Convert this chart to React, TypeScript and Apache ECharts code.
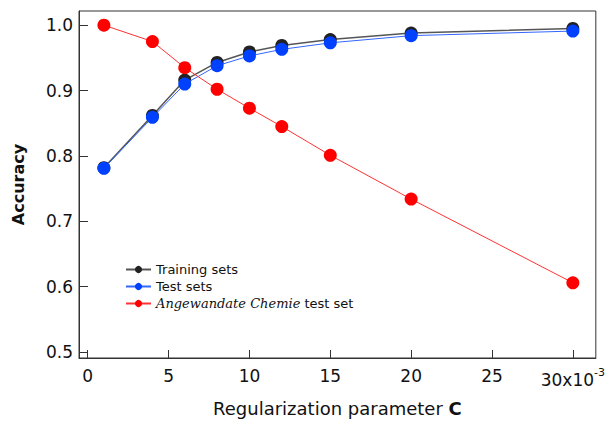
import React, { useEffect, useRef } from "react";
import * as echarts from "echarts";

const xValues = [1, 4, 6, 8, 10, 12, 15, 20, 30];
const trainingSets = [0.782, 0.862, 0.916, 0.943, 0.959, 0.969, 0.978, 0.988, 0.995];
const testSets = [0.781, 0.859, 0.910, 0.938, 0.953, 0.963, 0.973, 0.984, 0.991];
const angewandteSet = [1.0, 0.975, 0.935, 0.902, 0.873, 0.845, 0.801, 0.734, 0.606];
const xTicks = [0, 5, 10, 15, 20, 25, 30];
const yTicks = [0.5, 0.6, 0.7, 0.8, 0.9, 1.0];

const FONT = "DejaVu Sans";

export default function App() {
  const ref = useRef<HTMLDivElement>(null);
  useEffect(() => {
    if (!ref.current) return;
    const chart = echarts.init(ref.current, undefined, { renderer: "svg" });
    const pair = (ys: number[]) => xValues.map((x, i) => [x, ys[i]]);
    chart.setOption({
      animation: false,
      backgroundColor: "#ffffff",
      grid: { left: 79, top: 11, width: 518, height: 349, show: true, borderColor: "#333", borderWidth: 1 },
      legend: {
        orient: "vertical",
        left: 120,
        top: 256,
        padding: 5,
        itemWidth: 25,
        itemHeight: 9,
        itemGap: 0,
        textStyle: {
          fontFamily: FONT,
          fontSize: 13,
          color: "#111",
          lineHeight: 17,
          rich: {
            i: { fontFamily: "DejaVu Serif", fontStyle: "italic", fontSize: 13, color: "#111", lineHeight: 17 },
            n: { fontFamily: FONT, fontSize: 13, color: "#111", lineHeight: 17 },
          },
        },
        formatter: (name: string) =>
          name === "Angewandate Chemie test set" ? "{i|Angewandate Chemie}{n| test set}" : name,
        data: ["Training sets", "Test sets", "Angewandate Chemie test set"],
      },
      xAxis: {
        type: "value",
        min: -0.54,
        max: 31.42,
        name: "{n|Regularization parameter }{b|C}",
        nameLocation: "middle",
        nameGap: 41,
        nameTextStyle: {
          rich: {
            n: { fontFamily: FONT, fontSize: 18, color: "#111" },
            b: { fontFamily: FONT, fontSize: 18, fontWeight: "bold", color: "#111" },
          },
        },
        axisLine: { show: true, onZero: false, lineStyle: { color: "#333", width: 1 } },
        axisTick: { show: true, inside: true, length: 8, customValues: xTicks, lineStyle: { color: "#333" } },
        splitLine: { show: false },
        axisLabel: {
          customValues: xTicks,
          margin: 9,
          fontFamily: FONT,
          fontSize: 17,
          color: "#111",
          formatter: (v: number) => (v === 30 ? "{a|30x10}{s|-3}" : String(v)),
          rich: {
            a: { fontFamily: FONT, fontSize: 17, color: "#111", verticalAlign: "bottom" },
            s: { fontFamily: FONT, fontSize: 11, color: "#111", verticalAlign: "top", padding: [0, 0, 10, 0] },
          },
        },
      },
      yAxis: {
        type: "value",
        min: 0.4909,
        max: 1.0217,
        name: "Accuracy",
        nameLocation: "middle",
        nameRotate: 90,
        nameGap: 53,
        nameTextStyle: { fontFamily: FONT, fontSize: 16, fontWeight: "bold", color: "#111" },
        axisLine: { show: true, onZero: false, lineStyle: { color: "#333", width: 1 } },
        axisTick: { show: true, inside: true, length: 9, customValues: yTicks, lineStyle: { color: "#333" } },
        splitLine: { show: false },
        axisLabel: {
          customValues: yTicks,
          margin: 6,
          fontFamily: FONT,
          fontSize: 17,
          color: "#111",
          formatter: (v: number) => v.toFixed(1),
        },
      },
      series: [
        {
          name: "Training sets",
          type: "line",
          data: pair(trainingSets),
          symbol: "circle",
          symbolSize: 13,
          itemStyle: { color: "#222222" },
          lineStyle: { color: "#555555", width: 1.5 },
          z: 2,
        },
        {
          name: "Test sets",
          type: "line",
          data: pair(testSets),
          symbol: "circle",
          symbolSize: 13,
          itemStyle: { color: "#0040ff" },
          lineStyle: { color: "#3366ff", width: 1 },
          z: 3,
        },
        {
          name: "Angewandate Chemie test set",
          type: "line",
          data: pair(angewandteSet),
          symbol: "circle",
          symbolSize: 13,
          itemStyle: { color: "#ff0000" },
          lineStyle: { color: "#ff3333", width: 1 },
          z: 4,
        },
      ],
    });
    return () => chart.dispose();
  }, []);
  return <div ref={ref} style={{ position: "absolute", left: 0, top: 0, width: 608, height: 422 }} />;
}
